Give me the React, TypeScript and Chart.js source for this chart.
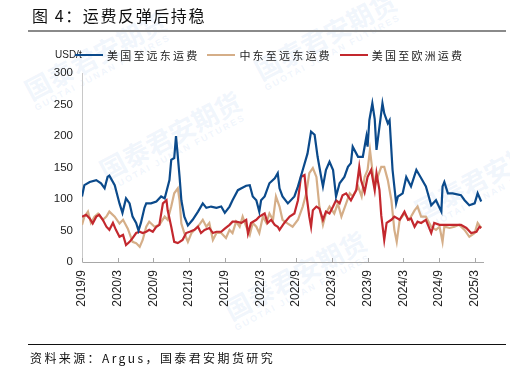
import React, { useEffect, useRef } from "react";
import { Chart, registerables } from "chart.js";
Chart.register(...registerables);

// x positions are months since 2019/9
const tickMonths = [0, 6, 12, 18, 24, 30, 36, 42, 48, 54, 60, 66];
const tickLabels = ["2019/9", "2020/3", "2020/9", "2021/3", "2021/9", "2022/3", "2022/9", "2023/3", "2023/9", "2024/3", "2024/9", "2025/3"];
const yTicks = [0, 50, 100, 150, 200, 250, 300];

const seriesNames = ["美国至远东运费", "中东至远东运费", "美国至欧洲运费"];
const seriesColors = ["#0b4a8b", "#d5ae88", "#c3282e"];

const blueMonth = [0.0, 0.4, 1.3, 2.4, 3.2, 3.8, 4.3, 4.6, 5.5, 6.3, 6.8, 7.4, 8.0, 8.5, 9.1, 9.5, 9.9, 10.5, 10.8, 11.6, 12.5, 13.3, 13.9, 14.7, 15.0, 15.5, 15.8, 16.1, 16.4, 16.7, 17.2, 17.8, 18.6, 19.5, 20.3, 20.9, 21.7, 22.6, 23.4, 24.0, 24.8, 25.3, 26.2, 26.8, 27.6, 28.2, 28.7, 29.3, 29.8, 30.1, 30.7, 31.5, 32.4, 32.9, 33.2, 33.7, 34.6, 35.7, 36.3, 37.1, 37.9, 38.5, 39.1, 39.6, 40.2, 40.5, 41.0, 41.6, 42.2, 42.7, 43.3, 44.1, 44.7, 45.2, 45.5, 46.4, 47.2, 47.8, 48.0, 48.3, 48.8, 49.2, 49.5, 50.0, 50.5, 50.8, 51.4, 51.7, 52.2, 52.8, 53.1, 53.9, 54.5, 55.3, 56.2, 56.7, 57.8, 58.7, 59.5, 60.4, 60.6, 60.9, 61.5, 62.3, 63.7, 64.3, 65.1, 66.0, 66.5, 67.1];
const blueValue = [104, 122, 127, 130, 125, 117, 135, 137, 122, 93, 78, 101, 93, 72, 62, 50, 62, 86, 93, 93, 96, 104, 101, 130, 162, 165, 200, 168, 135, 98, 72, 58, 67, 80, 93, 86, 88, 86, 88, 78, 88, 98, 114, 117, 121, 122, 104, 98, 80, 98, 104, 125, 133, 141, 117, 104, 93, 104, 120, 146, 172, 207, 202, 167, 135, 120, 146, 159, 146, 104, 125, 135, 151, 157, 183, 167, 167, 199, 183, 225, 252, 227, 178, 215, 252, 236, 220, 225, 146, 93, 104, 109, 135, 120, 146, 138, 120, 90, 98, 80, 120, 127, 109, 109, 106, 98, 90, 93, 109, 96];

const tanMonth = [0.0, 0.4, 1.0, 1.5, 2.1, 2.7, 3.5, 4.1, 4.6, 5.5, 6.3, 6.9, 7.7, 8.5, 9.1, 9.7, 10.2, 10.8, 11.3, 12.2, 13.0, 13.9, 14.4, 15.0, 15.5, 16.1, 16.4, 16.7, 17.2, 17.8, 18.4, 18.9, 19.7, 20.3, 20.9, 21.4, 22.0, 22.6, 23.4, 24.2, 24.8, 25.3, 25.9, 26.5, 27.0, 27.6, 28.2, 28.7, 29.3, 29.8, 30.4, 31.0, 31.5, 32.1, 32.6, 33.2, 33.7, 34.6, 35.4, 36.3, 37.1, 37.7, 38.2, 38.8, 39.4, 39.9, 40.5, 41.0, 41.6, 42.4, 43.0, 43.6, 44.4, 45.0, 45.5, 46.4, 47.0, 47.5, 48.0, 48.4, 48.8, 49.2, 49.7, 50.3, 50.8, 51.4, 52.0, 52.5, 52.9, 53.4, 54.2, 55.0, 55.9, 56.4, 57.0, 57.8, 58.7, 59.5, 60.1, 60.6, 60.9, 61.8, 62.6, 63.4, 64.3, 65.1, 66.0, 66.5, 67.1];
const tanValue = [59, 72, 80, 62, 72, 77, 67, 72, 80, 72, 61, 67, 53, 32, 30, 24, 35, 56, 64, 56, 59, 72, 67, 88, 109, 117, 98, 61, 46, 32, 46, 51, 59, 67, 56, 62, 35, 46, 46, 38, 51, 46, 64, 56, 72, 56, 43, 62, 56, 46, 72, 62, 77, 67, 104, 88, 67, 61, 56, 67, 88, 109, 141, 149, 135, 88, 59, 77, 88, 77, 93, 72, 93, 109, 104, 120, 104, 135, 146, 178, 146, 120, 135, 151, 151, 130, 98, 51, 32, 67, 77, 67, 82, 88, 72, 72, 56, 51, 56, 32, 56, 54, 56, 59, 51, 40, 46, 62, 54];

const redMonth = [0.0, 0.7, 1.3, 1.8, 2.4, 2.9, 3.5, 4.1, 4.6, 5.2, 5.7, 6.3, 6.9, 7.4, 8.0, 8.5, 9.1, 9.7, 10.2, 10.8, 11.3, 11.9, 12.5, 13.0, 13.6, 14.2, 14.4, 15.0, 15.5, 16.1, 16.9, 17.5, 18.1, 18.9, 19.5, 20.0, 20.6, 21.4, 22.0, 22.6, 23.4, 24.0, 24.8, 25.3, 25.9, 26.8, 27.6, 27.9, 28.4, 29.3, 29.8, 30.7, 31.2, 31.8, 32.4, 32.9, 33.2, 34.0, 34.9, 35.7, 36.3, 36.8, 37.4, 37.7, 38.2, 38.5, 38.8, 39.4, 39.9, 40.5, 41.0, 41.6, 42.2, 42.7, 43.3, 43.8, 44.4, 45.2, 46.1, 46.6, 46.9, 47.5, 48.0, 48.6, 49.2, 49.5, 50.0, 50.3, 50.8, 51.2, 52.0, 52.5, 53.4, 54.2, 54.8, 55.3, 55.9, 56.4, 57.0, 57.8, 58.7, 59.2, 60.1, 60.9, 61.8, 62.6, 63.7, 64.6, 65.4, 66.3, 66.8, 67.1];
const redValue = [72, 75, 69, 61, 72, 75, 67, 56, 51, 62, 51, 40, 43, 27, 32, 38, 46, 48, 46, 48, 51, 48, 56, 59, 93, 98, 82, 56, 32, 30, 35, 46, 48, 51, 56, 46, 51, 54, 46, 48, 48, 53, 59, 64, 64, 62, 67, 45, 62, 67, 72, 77, 62, 67, 59, 56, 51, 62, 72, 77, 98, 135, 138, 109, 72, 56, 82, 88, 85, 67, 80, 77, 88, 98, 93, 106, 109, 98, 114, 151, 130, 111, 135, 146, 114, 141, 114, 74, 35, 62, 67, 72, 67, 80, 67, 69, 56, 64, 62, 67, 46, 62, 59, 59, 59, 59, 59, 54, 46, 48, 56, 54];

const seriesMonths = [blueMonth, tanMonth, redMonth];
const seriesValues = [blueValue, tanValue, redValue];
const seriesOrder = [0, 2, 1];

const CJK = '"Noto Sans CJK SC", "Noto Sans", sans-serif';
const LATIN = '"Liberation Sans", Arial, sans-serif';

const innerTicks = {
  id: "innerTicks",
  afterDatasetsDraw(chart: any) {
    const { ctx, chartArea } = chart;
    const x = chart.scales.x;
    ctx.save();
    ctx.strokeStyle = "#a8a8a8";
    ctx.lineWidth = 1;
    tickMonths.forEach((m) => {
      const px = Math.round(x.getPixelForValue(m)) + 0.5;
      ctx.beginPath();
      ctx.moveTo(px, chartArea.bottom);
      ctx.lineTo(px, chartArea.bottom - 4);
      ctx.stroke();
    });
    ctx.restore();
  },
};

const watermarks = [
  { left: 20, top: 80, rot: -28, size: 26 },
  { left: 250, top: 60, rot: -28, size: 26 },
  { left: 410, top: 200, rot: -28, size: 26 },
  { left: 220, top: 300, rot: -28, size: 26 },
  { left: 95, top: 160, rot: -28, size: 26 },
];

export default function App() {
  const ref = useRef<HTMLCanvasElement | null>(null);
  useEffect(() => {
    if (!ref.current) return;
    const chart = new Chart(ref.current, {
      type: "line",
      data: {
        datasets: seriesNames.map((name, i) => ({
          label: name,
          data: seriesMonths[i].map((m, j) => ({ x: m, y: seriesValues[i][j] })),
          borderColor: seriesColors[i],
          backgroundColor: seriesColors[i],
          borderWidth: 2.2,
          pointRadius: 0,
          tension: 0,
          order: seriesOrder[i],
        })),
      },
      options: {
        animation: false,
        responsive: false,
        layout: { padding: { left: 0, top: 73, right: 27, bottom: 0 } },
        plugins: { legend: { display: false }, tooltip: { enabled: false } },
        scales: {
          x: {
            type: "linear",
            min: 0,
            max: 67.4,
            afterBuildTicks: (s: any) => {
              s.ticks = tickMonths.map((v) => ({ value: v }));
            },
            afterFit: (s: any) => {
              s.height = 123;
            },
            grid: { display: false, drawTicks: false },
            border: { color: "#a8a8a8", width: 1 },
            ticks: {
              autoSkip: false,
              minRotation: 90,
              maxRotation: 90,
              padding: 8,
              color: "#222",
              font: { family: LATIN, size: 12 },
              callback: (v: any) => tickLabels[tickMonths.indexOf(Number(v))],
            },
          },
          y: {
            min: 0,
            max: 300,
            afterBuildTicks: (s: any) => {
              s.ticks = yTicks.map((v) => ({ value: v }));
            },
            afterFit: (s: any) => {
              s.width = 82;
            },
            grid: { display: false, drawTicks: false },
            border: { color: "#c8c8c8", width: 1 },
            ticks: { padding: 9, color: "#222", font: { family: LATIN, size: 11.5 } },
          },
        },
      },
      plugins: [innerTicks],
    });
    return () => chart.destroy();
  }, []);

  return (
    <div style={{ position: "absolute", left: 0, top: 0, width: 510, height: 385, background: "#fff", overflow: "hidden" }}>
      {watermarks.map((w, i) => (
        <div
          key={i}
          style={{
            position: "absolute",
            left: w.left,
            top: w.top,
            transform: `rotate(${w.rot}deg)`,
            transformOrigin: "left top",
            fontFamily: CJK,
            fontWeight: 700,
            fontSize: w.size,
            color: "rgba(150,190,235,0.15)",
            whiteSpace: "nowrap",
            lineHeight: 1,
          }}
        >
          国泰君安期货
          <div style={{ fontSize: 9, letterSpacing: 2, fontFamily: LATIN, marginTop: 2 }}>GUOTAI JUNAN FUTURES</div>
        </div>
      ))}
      <canvas ref={ref} width={510} height={385} style={{ position: "absolute", left: 0, top: 0, width: 510, height: 385 }} />
      <div style={{ position: "absolute", left: 32, top: 3, fontFamily: CJK, fontSize: 16, letterSpacing: 1.6, color: "#111", whiteSpace: "nowrap", lineHeight: "24px" }}>
        图 4：运费反弹后持稳
      </div>
      <div style={{ position: "absolute", left: 28, top: 30, width: 478, height: 2, background: "#8a8a8a" }} />
      <div style={{ position: "absolute", left: 55, top: 48, fontFamily: LATIN, fontSize: 10, color: "#222", lineHeight: "14px" }}>USD/t</div>
      <div style={{ position: "absolute", left: 75, top: 47, display: "flex", alignItems: "center", height: 16 }}>
        {seriesNames.map((name, i) => (
          <div key={i} style={{ display: "flex", alignItems: "center", marginRight: i < 2 ? 8 : 0 }}>
            <div style={{ width: 28, height: 2, background: seriesColors[i], marginRight: 4 }} />
            <span style={{ fontFamily: CJK, fontSize: 11, letterSpacing: 2.2, color: "#222", whiteSpace: "nowrap", lineHeight: "16px" }}>{name}</span>
          </div>
        ))}
      </div>
      <div style={{ position: "absolute", left: 28, top: 344, width: 478, height: 1, background: "#111" }} />
      <div style={{ position: "absolute", left: 30, top: 350, fontFamily: CJK, fontSize: 12, letterSpacing: 2.4, color: "#111", whiteSpace: "nowrap", lineHeight: "16px" }}>
        资料来源：Argus，国泰君安期货研究
      </div>
    </div>
  );
}
